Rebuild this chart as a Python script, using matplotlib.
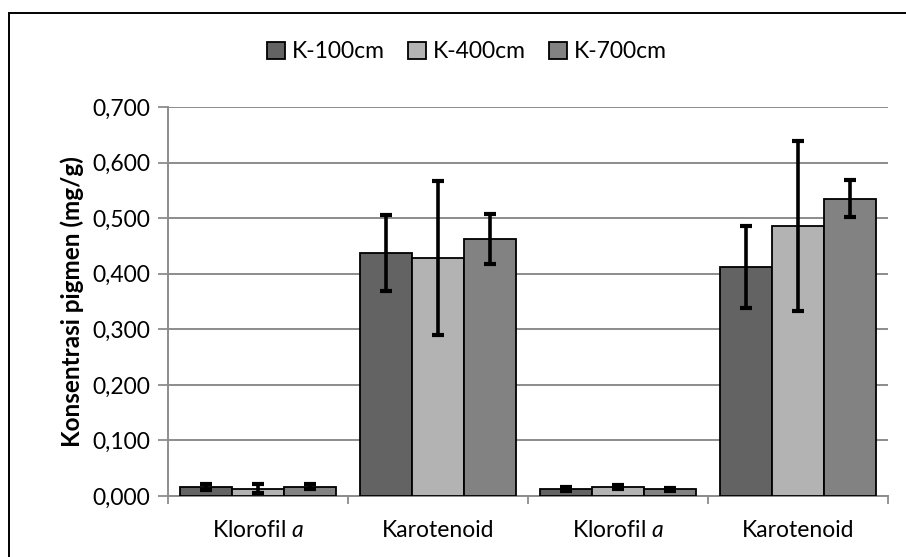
import numpy as np
import matplotlib.pyplot as plt
from matplotlib.patches import Rectangle

plt.rcParams['font.family'] = ['Lato', 'DejaVu Sans']
plt.rcParams['mathtext.fontset'] = 'custom'
plt.rcParams['mathtext.rm'] = 'Lato'
plt.rcParams['mathtext.it'] = 'Lato:italic'

#---- data ----
categories = ["Klorofil $a$", "Karotenoid", "Klorofil $a$", "Karotenoid"]
series     = ["K-100cm", "K-400cm", "K-700cm"]
k100       = [0.016, 0.437, 0.013, 0.412]
k100_err   = [0.005, 0.068, 0.004, 0.074]
k400       = [0.013, 0.428, 0.016, 0.486]
k400_err   = [0.008, 0.139, 0.004, 0.153]
k700       = [0.017, 0.462, 0.012, 0.535]
k700_err   = [0.005, 0.045, 0.003, 0.033]
yticks     = [0.0, 0.1, 0.2, 0.3, 0.4, 0.5, 0.6, 0.7]

colors = ["#636363", "#b3b3b3", "#828282"]
grid_c = "#8c8c8c"

#---- figure ----
fig = plt.figure(figsize=(9.06, 5.57), dpi=100)
ax = fig.add_axes([168/906, 1-496/557, 720/906, 389/557])

x = np.arange(len(categories))
w = 0.288
vals = [k100, k400, k700]
errs = [k100_err, k400_err, k700_err]
for j in range(3):
    ax.bar(x + (j-1)*w, vals[j], width=w, color=colors[j], edgecolor="black",
           linewidth=1.3, label=series[j], zorder=3)
    ax.errorbar(x + (j-1)*w, vals[j], yerr=errs[j], fmt="none", ecolor="black",
                elinewidth=2.6, capsize=4.5, capthick=3, zorder=4)

ax.set_xlim(-0.5, len(categories)-0.5)
ax.set_ylim(0, 0.7)
ax.set_yticks(yticks)
ax.set_yticklabels([("%.3f" % v).replace(".", ",") for v in yticks], fontsize=16.5)
ax.set_xticks(x)
ax.set_xticklabels(categories, fontsize=16.5)
ax.set_xticks(np.arange(-0.5, len(categories)), minor=True)
ax.tick_params(axis="x", which="major", length=0, pad=17)
ax.tick_params(axis="x", which="minor", length=6, width=1.3, color=grid_c)
ax.tick_params(axis="y", length=7, width=1.3, color=grid_c, pad=6)

ax.grid(axis="y", color=grid_c, linewidth=1.4, zorder=0)
ax.set_axisbelow(True)
for s in ["top", "right"]:
    ax.spines[s].set_visible(False)
for s in ["left", "bottom"]:
    ax.spines[s].set_color(grid_c)
    ax.spines[s].set_linewidth(1.4)

ax.set_ylabel("Konsentrasi pigmen (mg/g)", fontsize=17.5, fontweight="bold", labelpad=6)

leg = fig.legend(loc="center", bbox_to_anchor=(467/906, 1-52/557), ncol=3,
                 frameon=False, fontsize=16.5, handlelength=0.8, handleheight=0.8,
                 handletextpad=0.3, columnspacing=1.0)
for h in leg.legend_handles:
    h.set_linewidth(1.3)

#---- outer frame ----
fig.patches.append(Rectangle((9/906, -0.05), 1.2, 1-13/557+0.05, transform=fig.transFigure,
                             fill=False, edgecolor="black", linewidth=1.4))

fig.savefig("out.png", dpi=100)
